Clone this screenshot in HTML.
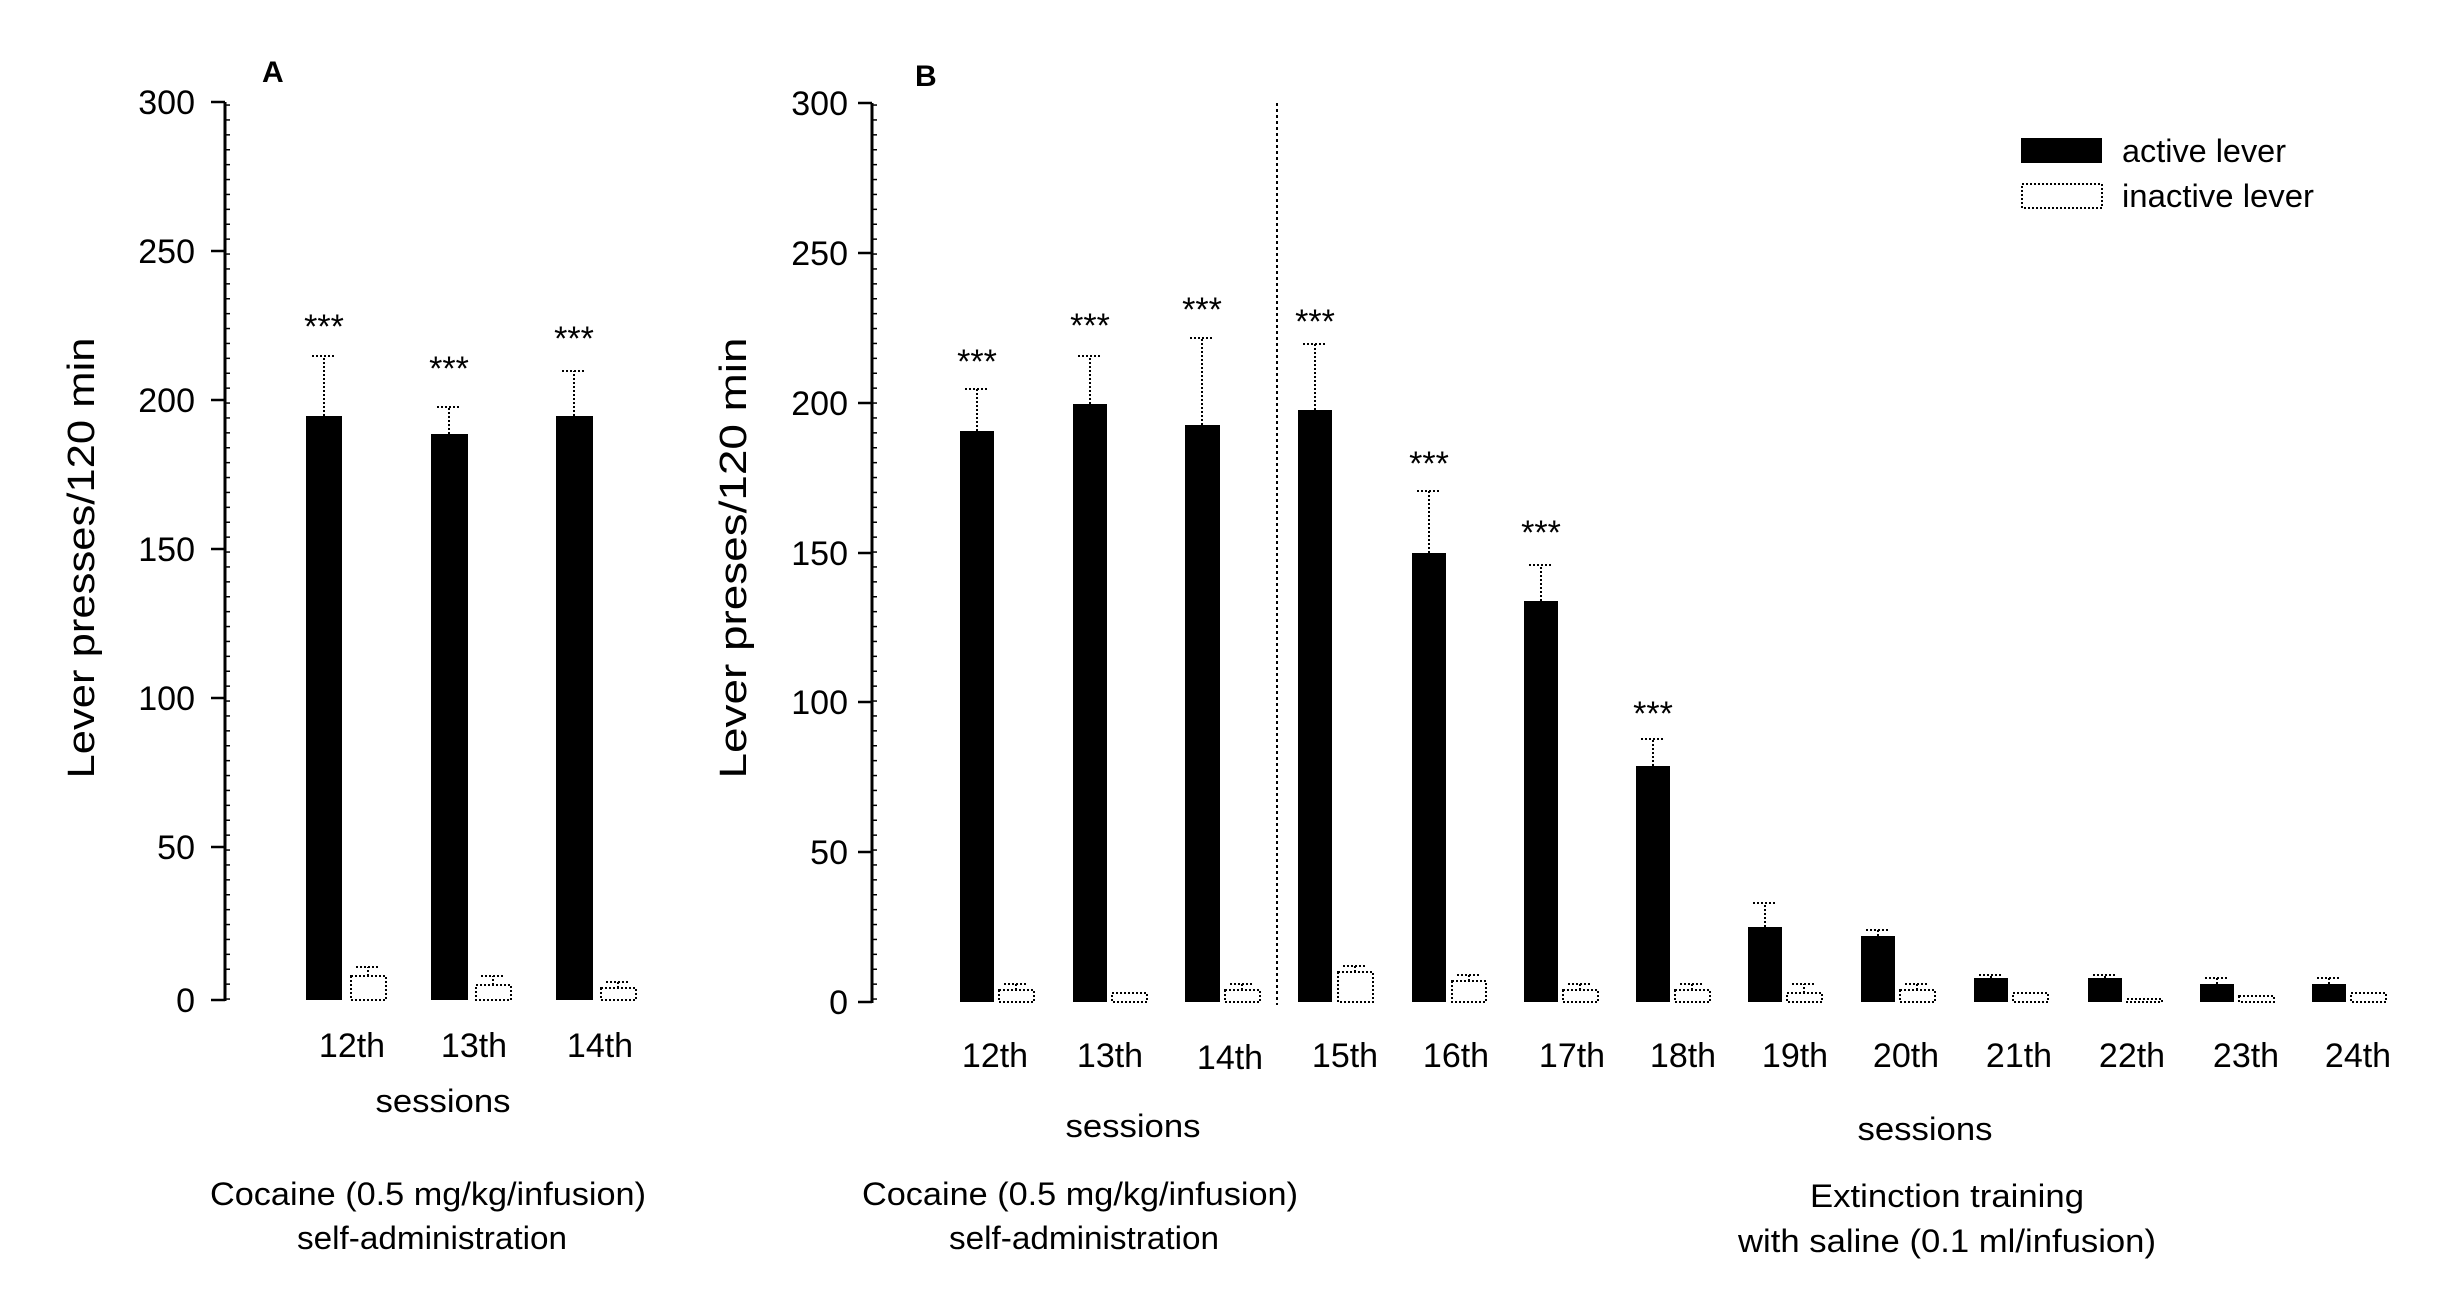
<!DOCTYPE html>
<html><head><meta charset="utf-8"><style>html,body{margin:0;padding:0;background:#fff}svg{display:block}text{font-family:"Liberation Sans",Arial,sans-serif;fill:#000}</style></head>
<body>
<svg width="2445" height="1293" viewBox="0 0 2445 1293" xmlns="http://www.w3.org/2000/svg">
<defs>
<pattern id="minA" width="4" height="14.9" patternUnits="userSpaceOnUse"><rect x="0" y="0" width="4" height="1.5" fill="#000"/></pattern>
</defs>
<!-- Panel A -->
<text x="262" y="82" font-size="30" font-weight="bold">A</text>
<line x1="225" y1="102" x2="225" y2="1001" stroke="#000" stroke-width="3"/>
<rect x="225" y="102" width="5" height="898" fill="url(#minA)"/>
<g stroke="#000" stroke-width="2.5">
<line x1="211" y1="102" x2="225" y2="102"/><line x1="211" y1="251" x2="225" y2="251"/><line x1="211" y1="400" x2="225" y2="400"/><line x1="211" y1="549" x2="225" y2="549"/><line x1="211" y1="698" x2="225" y2="698"/><line x1="211" y1="847" x2="225" y2="847"/><line x1="211" y1="1000" x2="225" y2="1000"/>
</g>
<g font-size="34" text-anchor="end">
<text x="195" y="114">300</text><text x="195" y="263">250</text><text x="195" y="412">200</text><text x="195" y="561">150</text><text x="195" y="710">100</text><text x="195" y="859">50</text><text x="195" y="1012">0</text>
</g>
<text transform="translate(94,558) rotate(-90)" font-size="38" text-anchor="middle" textLength="441" lengthAdjust="spacingAndGlyphs">Lever presses/120 min</text>
<g fill="#000">
<rect x="306" y="416" width="36" height="584"/><rect x="431" y="434" width="37" height="566"/><rect x="556" y="416" width="37" height="584"/>
</g>
<g fill="#fff" stroke="#000" stroke-width="2" stroke-dasharray="2,2">
<rect x="351" y="976" width="35" height="24"/><rect x="476" y="985" width="35" height="15"/><rect x="601" y="988" width="35" height="12"/>
</g>
<g stroke="#000" stroke-width="2" stroke-dasharray="2,2" fill="none">
<path d="M324 416V356M312 356H336"/><path d="M449 434V407M437 407H461"/><path d="M574 416V371M562 371H586"/>
<path d="M368 976V967M356 967H380"/><path d="M493 985V976M481 976H505"/><path d="M618 988V982M606 982H630"/>
</g>
<g font-size="34" text-anchor="middle">
<text x="324" y="338">***</text><text x="449" y="380">***</text><text x="574" y="350">***</text>
<text x="352" y="1057">12th</text><text x="474" y="1057">13th</text><text x="600" y="1057">14th</text>
</g>
<text x="443" y="1112" font-size="32" text-anchor="middle" textLength="135" lengthAdjust="spacingAndGlyphs">sessions</text>
<text x="428" y="1205" font-size="32" text-anchor="middle" textLength="436" lengthAdjust="spacingAndGlyphs">Cocaine (0.5 mg/kg/infusion)</text>
<text x="432" y="1249" font-size="32" text-anchor="middle" textLength="270" lengthAdjust="spacingAndGlyphs">self-administration</text>

<!-- Panel B -->
<text x="915" y="86" font-size="30" font-weight="bold">B</text>
<line x1="872" y1="103" x2="872" y2="1003" stroke="#000" stroke-width="3"/>
<rect x="872" y="103" width="5" height="899" fill="url(#minA)"/>
<g stroke="#000" stroke-width="2.5">
<line x1="858" y1="103" x2="872" y2="103"/><line x1="858" y1="253" x2="872" y2="253"/><line x1="858" y1="403" x2="872" y2="403"/><line x1="858" y1="553" x2="872" y2="553"/><line x1="858" y1="702" x2="872" y2="702"/><line x1="858" y1="852" x2="872" y2="852"/><line x1="858" y1="1002" x2="872" y2="1002"/>
</g>
<g font-size="34" text-anchor="end">
<text x="848" y="115">300</text><text x="848" y="265">250</text><text x="848" y="415">200</text><text x="848" y="565">150</text><text x="848" y="714">100</text><text x="848" y="864">50</text><text x="848" y="1014">0</text>
</g>
<text transform="translate(746,558) rotate(-90)" font-size="38" text-anchor="middle" textLength="441" lengthAdjust="spacingAndGlyphs">Lever preses/120 min</text>
<line x1="1277" y1="103" x2="1277" y2="1005" stroke="#000" stroke-width="2" stroke-dasharray="3,3"/>
<g fill="#000">
<rect x="960" y="431" width="34" height="571"/>
<rect x="1073" y="404" width="34" height="598"/>
<rect x="1185" y="425" width="35" height="577"/>
<rect x="1298" y="410" width="34" height="592"/>
<rect x="1412" y="553" width="34" height="449"/>
<rect x="1524" y="601" width="34" height="401"/>
<rect x="1636" y="766" width="34" height="236"/>
<rect x="1748" y="927" width="34" height="75"/>
<rect x="1861" y="936" width="34" height="66"/>
<rect x="1974" y="978" width="34" height="24"/>
<rect x="2088" y="978" width="34" height="24"/>
<rect x="2200" y="984" width="34" height="18"/>
<rect x="2312" y="984" width="34" height="18"/>
</g>
<g fill="#fff" stroke="#000" stroke-width="2" stroke-dasharray="2,2">
<rect x="999" y="990" width="35" height="12"/>
<rect x="1112" y="993" width="35" height="9"/>
<rect x="1225" y="990" width="35" height="12"/>
<rect x="1338" y="972" width="35" height="30"/>
<rect x="1452" y="981" width="34" height="21"/>
<rect x="1563" y="990" width="35" height="12"/>
<rect x="1675" y="990" width="35" height="12"/>
<rect x="1787" y="993" width="35" height="9"/>
<rect x="1900" y="990" width="35" height="12"/>
<rect x="2013" y="993" width="35" height="9"/>
<rect x="2127" y="999" width="35" height="3"/>
<rect x="2239" y="996" width="35" height="6"/>
<rect x="2351" y="993" width="35" height="9"/>
</g>
<g stroke="#000" stroke-width="2" stroke-dasharray="2,2" fill="none">
<path d="M977 431V389M965 389H989"/>
<path d="M1090 404V356M1078 356H1102"/>
<path d="M1202 425V338M1190 338H1214"/>
<path d="M1315 410V344M1303 344H1327"/>
<path d="M1429 553V491M1417 491H1441"/>
<path d="M1541 601V565M1529 565H1553"/>
<path d="M1653 766V739M1641 739H1665"/>
<path d="M1765 927V903M1753 903H1777"/>
<path d="M1878 936V930M1866 930H1890"/>
<path d="M1991 978V975M1979 975H2003"/>
<path d="M2105 978V975M2093 975H2117"/>
<path d="M2217 984V978M2205 978H2229"/>
<path d="M2329 984V978M2317 978H2341"/>
<path d="M1016 990V984M1004 984H1028"/>
<path d="M1242 990V984M1230 984H1254"/>
<path d="M1355 972V966M1343 966H1367"/>
<path d="M1469 981V975M1457 975H1481"/>
<path d="M1580 990V984M1568 984H1592"/>
<path d="M1692 990V984M1680 984H1704"/>
<path d="M1804 993V984M1792 984H1816"/>
<path d="M1917 990V984M1905 984H1929"/>
</g>
<g font-size="34" text-anchor="middle">
<text x="977" y="373">***</text><text x="1090" y="337">***</text><text x="1202" y="321">***</text><text x="1315" y="333">***</text><text x="1429" y="475">***</text><text x="1541" y="544">***</text><text x="1653" y="725">***</text>
</g>
<g font-size="34" text-anchor="middle">
<text x="995" y="1067">12th</text><text x="1110" y="1067">13th</text><text x="1230" y="1069">14th</text><text x="1345" y="1067">15th</text><text x="1456" y="1067">16th</text><text x="1572" y="1067">17th</text><text x="1683" y="1067">18th</text><text x="1795" y="1067">19th</text><text x="1906" y="1067">20th</text><text x="2019" y="1067">21th</text><text x="2132" y="1067">22th</text><text x="2246" y="1067">23th</text><text x="2358" y="1067">24th</text>
</g>
<text x="1133" y="1137" font-size="32" text-anchor="middle" textLength="135" lengthAdjust="spacingAndGlyphs">sessions</text>
<text x="1925" y="1140" font-size="32" text-anchor="middle" textLength="135" lengthAdjust="spacingAndGlyphs">sessions</text>
<text x="1080" y="1205" font-size="32" text-anchor="middle" textLength="436" lengthAdjust="spacingAndGlyphs">Cocaine (0.5 mg/kg/infusion)</text>
<text x="1084" y="1249" font-size="32" text-anchor="middle" textLength="270" lengthAdjust="spacingAndGlyphs">self-administration</text>
<text x="1947" y="1207" font-size="32" text-anchor="middle" textLength="274" lengthAdjust="spacingAndGlyphs">Extinction training</text>
<text x="1947" y="1252" font-size="32" text-anchor="middle" textLength="418" lengthAdjust="spacingAndGlyphs">with saline (0.1 ml/infusion)</text>
<!-- legend -->
<rect x="2021" y="138" width="81" height="25" fill="#000"/>
<rect x="2022" y="184" width="80" height="24" fill="#fff" stroke="#000" stroke-width="2" stroke-dasharray="2,2"/>
<text x="2122" y="162" font-size="32" textLength="164" lengthAdjust="spacingAndGlyphs">active lever</text>
<text x="2122" y="207" font-size="32" textLength="192" lengthAdjust="spacingAndGlyphs">inactive lever</text>
</svg>
</body></html>
